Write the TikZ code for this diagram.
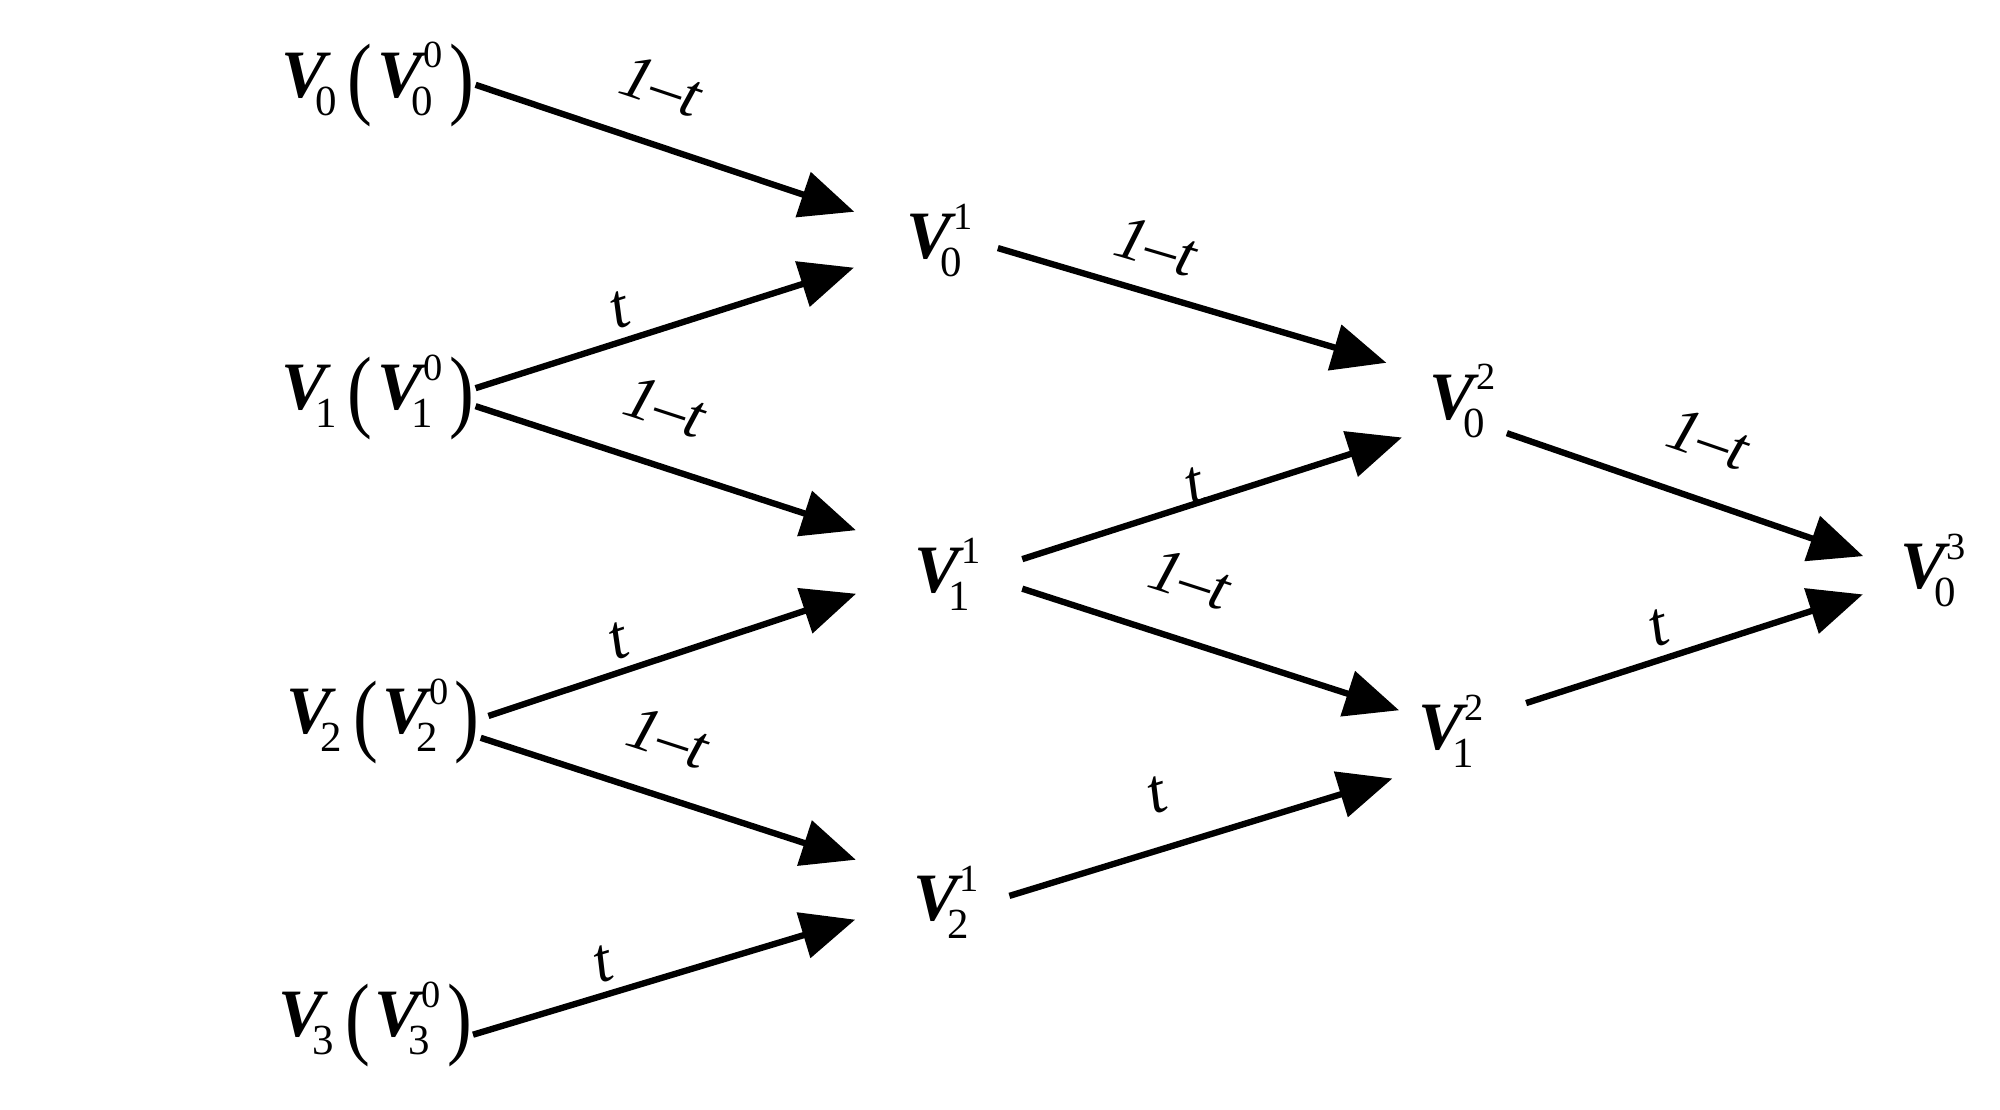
\documentclass[tikz,border=0pt]{standalone}
\usepackage{graphicx}
\usepackage{fontspec}
\setmainfont{Liberation Serif}
\usetikzlibrary{arrows.meta}
\newcommand{\Vs}[1]{\textbf{\textit{V}}\kern-3.5pt\raisebox{-4pt}{\fontsize{9.5}{10}\selectfont#1}}
\newcommand{\Vn}[2]{\textbf{\textit{V}}\kern-3.5pt\rlap{\raisebox{-4pt}{\fontsize{9.5}{10}\selectfont#1}}\kern2.8pt\raisebox{6.5pt}{\fontsize{8.5}{9}\selectfont#2}}
\newcommand{\tallparen}[1]{\raisebox{-2.4pt}{\scalebox{1.1}[1.35]{#1}}}
\newcommand{\Vp}[1]{\Vs{#1}\kern2.5pt\tallparen{(}\kern1pt\Vn{#1}{0}\kern1.5pt\tallparen{)}}

\begin{document}
\begin{tikzpicture}[
  every node/.style={font=\fontsize{15}{18}\selectfont, inner sep=0pt},
  arr/.style={line width=1.4pt, -{Triangle[length=4.2mm,width=3.6mm]}},
  lbl/.style={font=\fontsize{14}{16}\selectfont\itshape, sloped, above=2pt}]
\useasboundingbox (0,0) rectangle (15.56,-8.63);

% level 0
\node[anchor=east] (v0) at (3.70,-0.66) {\Vp{0}};
\node[anchor=east] (v1) at (3.70,-3.09) {\Vp{1}};
\node[anchor=east] (v2) at (3.74,-5.61) {\Vp{2}};
\node[anchor=east] (v3) at (3.68,-7.97) {\Vp{3}};
% level 1
\node (v01) at (7.31,-1.87) {\Vn{0}{1}};
\node (v11) at (7.37,-4.47) {\Vn{1}{1}};
\node (v21) at (7.36,-7.02) {\Vn{2}{1}};
% level 2
\node (v02) at (11.38,-3.12) {\Vn{0}{2}};
\node (v12) at (11.29,-5.69) {\Vn{1}{2}};
% level 3
\node (v03) at (15.04,-4.44) {\Vn{0}{3}};

\draw[arr, shorten >=7mm] (v0.east) -- (v01.center) node[lbl, pos=.36, above=5.5pt] {1--t};
\draw[arr, shorten >=7mm] ([yshift=.7mm]v1.east) -- (v01.center) node[lbl, pos=.33] {t};
\draw[arr, shorten >=7.9mm] ([yshift=-.7mm]v1.east) -- ([xshift=.4mm,yshift=1mm]v11.center) node[lbl, pos=.36, above=5.5pt] {1--t};
\draw[arr, shorten >=7.9mm] ([xshift=.6mm,yshift=.4mm]v2.east) -- ([xshift=.4mm,yshift=1mm]v11.center) node[lbl, pos=.30] {t};
\draw[arr, shorten >=7.8mm] ([yshift=-1.3mm]v2.east) -- ([xshift=.4mm,yshift=.9mm]v21.center) node[lbl, pos=.36, above=5.5pt] {1--t};
\draw[arr, shorten >=7.8mm] ([yshift=-.8mm]v3.east) -- ([xshift=.4mm,yshift=.9mm]v21.center) node[lbl, pos=.29] {t};

\draw[arr, shorten >=10.5mm] ([xshift=1.9mm,yshift=-.6mm]v01.east) -- ([xshift=1.5mm]v02.east) node[lbl, pos=.28, above=3pt] {1--t};
\draw[arr, shorten >=9.3mm] ([xshift=3.2mm,yshift=1.2mm]v11.east) -- ([xshift=1.5mm]v02.east) node[lbl, pos=.36, above=-3pt] {t};
\draw[arr, shorten >=8.6mm] ([xshift=3.2mm,yshift=-1.1mm]v11.east) -- ([xshift=1.5mm,yshift=-1mm]v12.east) node[lbl, pos=.31, above=6pt] {1--t};
\draw[arr, shorten >=9.1mm] ([xshift=2.3mm,yshift=.5mm]v21.east) -- ([xshift=1.5mm,yshift=-1mm]v12.east) node[lbl, pos=.33, above=5pt] {t};

\draw[arr, shorten >=4.7mm] ([xshift=.8mm,yshift=-2.5mm]v02.east) -- ([xshift=-1mm,yshift=-.4mm]v03.center) node[lbl, pos=.44, above=6pt] {1--t};
\draw[arr, shorten >=4.7mm] ([xshift=3.2mm,yshift=2.2mm]v12.east) -- ([xshift=-1mm,yshift=-.4mm]v03.center) node[lbl, pos=.36] {t};
\end{tikzpicture}
\end{document}
